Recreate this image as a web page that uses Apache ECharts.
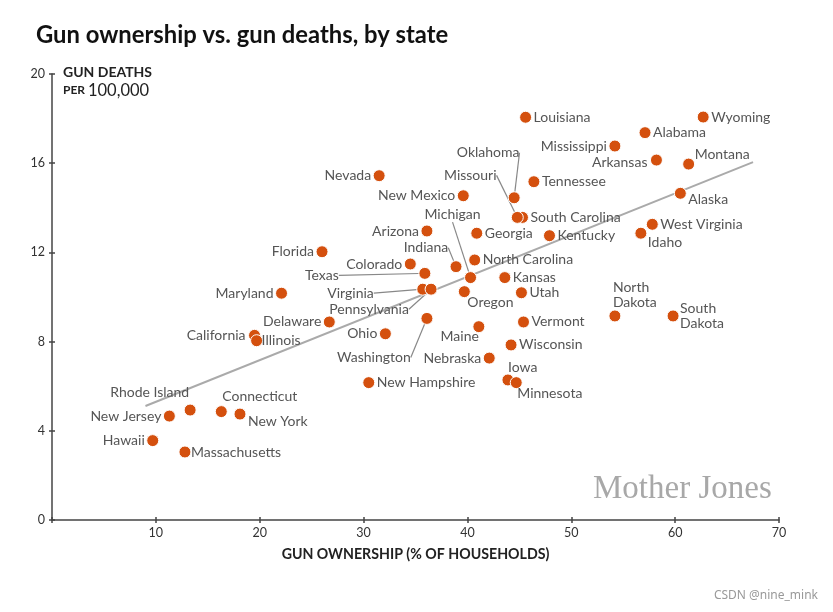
<!DOCTYPE html>
<html>
<head>
<meta charset="utf-8">
<script src="https://cdn.jsdelivr.net/npm/echarts@6/dist/echarts.min.js"></script>
<style>html,body{margin:0;padding:0;background:#fff}#c{width:833px;height:612px}</style>
</head>
<body>
<div id="c"></div>
<script>
// ---- data ----
var states = ['Louisiana','Wyoming','Alabama','Mississippi','Arkansas','Montana','Nevada','Tennessee','New Mexico','Oklahoma','Alaska','South Carolina','Missouri','West Virginia','Arizona','Georgia','Kentucky','Idaho','Florida','North Carolina','Colorado','Indiana','Texas','Kansas','Michigan','Virginia','Pennsylvania','Maryland','Utah','Oregon','North Dakota','South Dakota','Delaware','Washington','Vermont','Maine','Ohio','California','Illinois','Wisconsin','Nebraska','New Hampshire','Iowa','Minnesota','Rhode Island','Connecticut','New York','New Jersey','Hawaii','Massachusetts'];
var ownership = [45.6,62.7,57.1,54.2,58.2,61.3,31.5,46.4,39.6,44.5,60.5,45.3,44.8,57.8,36.1,40.9,47.9,56.7,26.0,40.7,34.5,38.9,35.9,43.6,40.3,35.7,36.5,22.1,45.2,39.7,54.2,59.8,26.7,36.1,45.4,41.1,32.1,19.5,19.7,44.2,42.1,30.5,43.9,44.7,13.3,16.3,18.1,11.3,9.7,12.8];
var deaths = [18.06,18.07,17.37,16.77,16.14,15.96,15.44,15.17,14.54,14.45,14.65,13.57,13.57,13.26,12.96,12.86,12.75,12.86,12.03,11.66,11.48,11.36,11.06,10.87,10.87,10.35,10.35,10.17,10.19,10.24,9.15,9.15,8.88,9.04,8.88,8.67,8.35,8.28,8.04,7.85,7.26,6.16,6.28,6.16,4.93,4.86,4.75,4.66,3.56,3.05];
var trendX = [9.0, 67.5];
var trendY = [5.11, 16.05];
var xTicks = [0,10,20,30,40,50,60,70];
var yTicks = [0,4,8,12,16,20];

// ---- label placement (pixel offsets from dot centre) ----
var R = [8,0,'left'], L = [-8,0,'right'];
var place = {
  'Mississippi':L,'Arkansas':[-9,2,'right'],'Montana':[6,-10,'left'],'Nevada':L,'New Mexico':L,
  'Oklahoma':[-26,-45,'center',1],'Missouri':[-47,-42,'center',1],'Alaska':[8,6,'left'],
  'Arizona':L,'Idaho':[7,9,'left'],'Florida':L,'Colorado':L,'Indiana':[-30,-19,'center',1],
  'Texas':[-86,2,'right',1],'Michigan':[-18,-63,'center',1],'Virginia':[-49,4,'right',1],
  'Pennsylvania':[-62,20,'center',1],'Maryland':L,'Oregon':[3,11,'left'],
  'North Dakota':[-2,-21,'left'],'South Dakota':[7,0,'left'],'Delaware':L,
  'Washington':[-53,39,'center',1],'Maine':[0,10,'right'],'Ohio':L,'California':[-9,0,'right'],
  'Illinois':[5,0,'left'],'Nebraska':L,'Iowa':[0,-12,'left'],'Minnesota':[1,11,'left'],
  'Rhode Island':[-1,-18,'right'],'Connecticut':[1,-15,'left'],'New York':[8,7,'left'],
  'New Jersey':L,'Hawaii':L,'Massachusetts':[6,0,'left']
};
function labelText(n){ return n==='North Dakota' ? 'North\nDakota' : n==='South Dakota' ? 'South\nDakota' : n; }

var pts = states.map(function(s,i){
  var p = place[s] || R;
  return {name:s, value:[ownership[i], deaths[i]], label:{formatter: labelText(s)}, labelLine:{show: !!p[3]}};
});

var chart = echarts.init(document.getElementById('c'), null, {renderer:'canvas'});
var FONT = 'Lato';
var axisColor = '#444';
chart.setOption({
  animation:false,
  backgroundColor:'#fff',
  title:{text:'Gun ownership vs. gun deaths, by state', left:31, top:18,
    textStyle:{fontFamily:FONT, fontWeight:'bold', fontSize:23.8, color:'#111'}},
  grid:{left:52, right:54, top:74, bottom:92},
  xAxis:[{
    type:'value', min:0, max:70, interval:10,
    axisLine:{lineStyle:{color:axisColor, width:1.5}},
    axisTick:{length:3, lineStyle:{color:axisColor, width:1.5}},
    splitLine:{show:false},
    axisLabel:{margin:6, fontFamily:FONT, fontSize:12.5, color:'#333', formatter:function(v){return v===0?'':v;}},
    name:'GUN OWNERSHIP (% OF HOUSEHOLDS)', nameLocation:'middle', nameGap:27,
    nameTextStyle:{fontFamily:FONT, fontWeight:'bold', fontSize:14.2, color:'#222'}
  },{
    type:'value', min:0, max:70, interval:10, position:'bottom',
    axisLine:{show:false}, axisTick:{inside:true, length:3, lineStyle:{color:axisColor, width:1.5}},
    axisLabel:{show:false}, splitLine:{show:false}
  }],
  yAxis:[{
    type:'value', min:0, max:20, interval:4,
    axisLine:{show:true, lineStyle:{color:axisColor, width:1.5}},
    axisTick:{show:true, length:3, lineStyle:{color:axisColor, width:1.5}},
    splitLine:{show:false},
    axisLabel:{margin:7, fontFamily:FONT, fontSize:12.5, color:'#333'}
  },{
    type:'value', min:0, max:20, interval:4, position:'left',
    axisLine:{show:false}, axisTick:{show:true, inside:true, length:3, lineStyle:{color:axisColor, width:1.5}},
    axisLabel:{show:false}, splitLine:{show:false}
  }],
  graphic:[
    {type:'text', left:63, top:65, style:{text:'GUN DEATHS', fontFamily:FONT, fontWeight:'bold', fontSize:14, fill:'#222'}},
    {type:'text', left:63, top:82, style:{text:'{a|PER }{b|100,000}', rich:{a:{fontFamily:FONT, fontWeight:'bold', fontSize:12, fill:'#222'}, b:{fontFamily:FONT, fontSize:16.5, fill:'#222'}}}},
    {type:'text', left:593, top:473, style:{text:'Mother Jones', fontFamily:'Liberation Serif', fontSize:33, fill:'#a8a8a8'}},
    {type:'text', right:15, top:590, style:{text:'CSDN @nine_mink', fontFamily:'Noto Sans', fontSize:12, fill:'#999'}}
  ],
  series:[{
    type:'line', xAxisIndex:0, yAxisIndex:0, silent:true, symbol:'none',
    data: trendX.map(function(x,i){return [x, trendY[i]];}),
    lineStyle:{color:'#aaa', width:2}, z:1
  },{
    type:'scatter', xAxisIndex:0, yAxisIndex:0, z:3,
    symbolSize:12,
    itemStyle:{color:'#d4500e', borderColor:'#fff', borderWidth:1, opacity:1},
    data: pts,
    label:{show:true, position:'right', fontFamily:FONT, fontSize:14, color:'#555', lineHeight:15},
    labelLine:{show:false, lineStyle:{color:'#888', width:1.2}},
    labelLayout:function(params){
      var s = states[params.dataIndex];
      var p = place[s] || R;
      var r = params.rect;
      var cx = r.x + r.width/2, cy = r.y + r.height/2;
      return {x: cx + p[0], y: cy + p[1], align: p[2], verticalAlign:'middle'};
    }
  }]
});
</script>
</body>
</html>
